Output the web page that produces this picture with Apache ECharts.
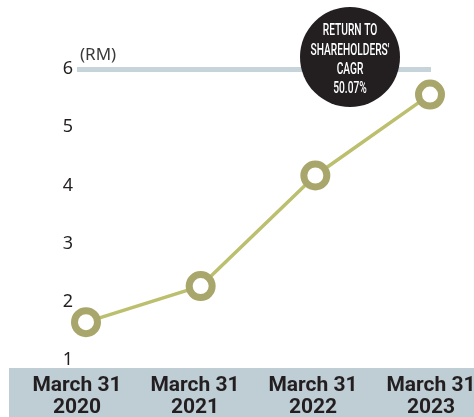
<!DOCTYPE html>
<html>
<head>
<meta charset="utf-8">
<script src="https://cdn.jsdelivr.net/npm/echarts@6/dist/echarts.min.js"></script>
<style>
  html, body { margin: 0; padding: 0; background: #ffffff; }
  #chart { width: 474px; height: 417px; }
</style>
</head>
<body>
<div id="chart"></div>
<script>
// Period-end dates and the share value (RM) at each one
const categories = ['March 31\n2020', 'March 31\n2021', 'March 31\n2022', 'March 31\n2023'];
const values = [1.65, 2.27, 4.17, 5.56];
const yTicks = [1, 2, 3, 4, 5, 6];
const cagrLines = ['RETURN TO', "SHAREHOLDERS'", 'CAGR', '50.07%'];

const INK = '#231f20';
const BAND = '#bfcdd5';
const RULE = '#c6d3db';
const LINE = '#bcbf6e';
const RING = '#a9a66b';

const chart = echarts.init(document.getElementById('chart'), null, { renderer: 'canvas' });

const bubbleX = 350, bubbleY = 57, bubbleR = 50;

chart.setOption({
  animation: false,
  backgroundColor: '#ffffff',
  grid: [
    { left: 86, right: 44, top: 69, bottom: 57, outerBoundsMode: 'none' },
    { left: 77, right: 43, top: 69, bottom: 57, outerBoundsMode: 'none' }
  ],
  xAxis: [
    {
      type: 'category', gridIndex: 0, data: categories, boundaryGap: false,
      axisLine: { show: false }, axisTick: { show: false }, axisLabel: { show: false },
      splitLine: { show: false }
    },
    {
      type: 'category', gridIndex: 1, data: categories, boundaryGap: false,
      axisLine: { show: false }, axisTick: { show: false }, splitLine: { show: false },
      z: 5,
      axisLabel: {
        interval: 0,
        hideOverlap: false,
        margin: 15,
        color: INK,
        fontFamily: 'Roboto',
        fontWeight: 'bold',
        fontSize: 21,
        lineHeight: 22,
        align: 'center'
      }
    }
  ],
  yAxis: [
    {
      type: 'value', gridIndex: 0, min: yTicks[0], max: yTicks[yTicks.length - 1], interval: 1,
      axisLine: { show: false }, axisTick: { show: false }, splitLine: { show: false },
      axisLabel: { show: false }
    },
    {
      type: 'value', gridIndex: 1, min: yTicks[0], max: yTicks[yTicks.length - 1], interval: 1,
      axisLine: { show: false }, axisTick: { show: false },
      name: '(RM)',
      nameLocation: 'end',
      nameGap: 5,
      nameTextStyle: { color: '#3a3a3a', fontFamily: 'Noto Sans', fontSize: 17, align: 'left', padding: [0, 0, 0, 3] },
      axisLabel: {
        margin: 4,
        color: INK,
        fontFamily: 'Noto Sans',
        fontSize: 18,
        formatter: v => (yTicks.indexOf(v) >= 0 ? String(v) : '')
      },
      splitLine: {
        show: true,
        lineStyle: {
          width: 5,
          color: yTicks.map(v => (v === yTicks[yTicks.length - 1] ? RULE : 'rgba(0,0,0,0)'))
        }
      }
    }
  ],
  graphic: [
    {
      type: 'rect', z: -1, silent: true,
      shape: { x: 9, y: 368, width: 465, height: 49 },
      style: { fill: BAND }
    },
    {
      type: 'circle', z: 10, silent: true,
      shape: { cx: bubbleX, cy: bubbleY, r: bubbleR },
      style: { fill: INK }
    }
  ].concat(cagrLines.map((t, i) => ({
    type: 'text', z: 11, silent: true,
    x: bubbleX, y: 31 + i * 19.3,
    scaleX: 0.6,
    style: {
      text: t,
      fill: '#ffffff',
      font: '500 17px Roboto',
      align: 'center',
      verticalAlign: 'middle'
    }
  }))),
  series: [
    {
      type: 'line',
      xAxisIndex: 0, yAxisIndex: 0,
      data: values,
      z: 3,
      symbol: 'circle',
      symbolSize: 23,
      lineStyle: { color: LINE, width: 3.5 },
      itemStyle: { color: '#ffffff', borderColor: RING, borderWidth: 7 },
      label: { show: false }
    }
  ]
});
</script>
</body>
</html>
